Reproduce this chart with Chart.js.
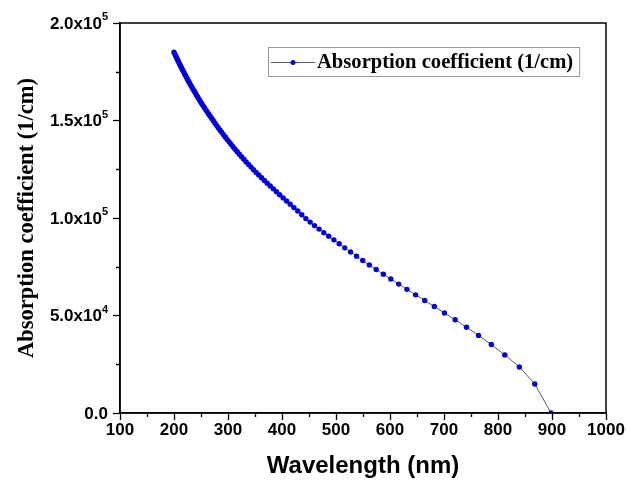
<!DOCTYPE html>
<html>
<head>
<meta charset="utf-8">
<style>
    html, body { margin: 0; padding: 0; background: #fff; }
</style>
</head>
<body>
<canvas id="myChart" width="626" height="483"></canvas>
<script src="https://cdn.jsdelivr.net/npm/chart.js@4.4.2/dist/chart.umd.min.js"></script>
<script>
// Wavelength (nm) of every measured point
const wavelengths = [
    200.0, 201.6, 203.2, 204.8, 206.5, 208.2, 209.9, 211.6, 213.4, 215.2,
    217.0, 218.9, 220.8, 222.7, 224.7, 226.7, 228.7, 230.8, 232.9, 235.1,
    237.3, 239.5, 241.8, 244.1, 246.4, 248.9, 251.3, 253.8, 256.4, 259.0,
    261.6, 264.4, 267.1, 270.0, 272.9, 275.8, 278.8, 281.9, 285.1, 288.3,
    291.6, 295.0, 298.4, 302.0, 305.6, 309.3, 313.1, 317.0, 321.0, 325.1,
    329.3, 333.6, 338.1, 342.6, 347.3, 352.1, 357.0, 362.1, 367.3, 372.7,
    378.2, 383.9, 389.8, 395.8, 402.1, 408.5, 415.2, 422.1, 429.2, 436.6,
    444.2, 452.1, 460.2, 468.7, 477.5, 486.6, 496.1, 505.9, 516.2, 526.9,
    538.0, 549.6, 561.7, 574.4, 587.7, 601.5, 616.1, 631.4, 647.4, 664.3,
    682.1, 700.9, 720.7, 741.7, 764.0, 787.6, 812.7, 839.5, 868.1, 898.2
];

// Absorption coefficient (1/cm)
const absorption = [
    185000, 184050, 183100, 182150, 181200, 180240, 179270, 178300, 177320, 176340,
    175350, 174350, 173350, 172340, 171330, 170310, 169280, 168250, 167210, 166170,
    165120, 164070, 163010, 161950, 160880, 159800, 158720, 157640, 156550, 155460,
    154360, 153260, 152150, 151000, 149850, 148690, 147520, 146340, 145150, 143950,
    142740, 141520, 140290, 139050, 137800, 136540, 135270, 133990, 132700, 131400,
    130090, 128770, 127440, 126100, 124750, 123390, 122020, 120640, 119250, 117850,
    116410, 114940, 113440, 111900, 110320, 108700, 107040, 105340, 103600, 101700,
    99700, 97900, 96100, 94300, 92500, 90700, 88800, 86800, 84700, 82600,
    80400, 78200, 75900, 73600, 71200, 68700, 66100, 63400, 60600, 57700,
    54600, 51300, 47800, 44000, 39800, 35100, 29800, 23600, 14900, 0
];

// Tick labels
const yTickValues = [0, 50000, 100000, 150000, 200000];
const yTickText = ['0.0', '5.0x10', '1.0x10', '1.5x10', '2.0x10'];
const yTickExp = ['', '4', '5', '5', '5'];
const xMinorTicks = [150, 250, 350, 450, 550, 650, 750, 850, 950];
const yMinorTicks = [25000, 75000, 125000, 175000];

const seriesLabel = 'Absorption coefficient (1/cm)';
const pointColor = '#0000d8';
const lineColor = '#5a5a5a';

// Frame, minor ticks, y labels with superscript and the legend box
const framePlugin = {
    id: 'framePlugin',
    afterDraw(chart) {
        const ctx = chart.ctx;
        const a = chart.chartArea;
        const xs = chart.scales.x;
        const ys = chart.scales.y;
        ctx.save();

        // box around plot
        ctx.strokeStyle = '#000';
        ctx.lineWidth = 1.5;
        ctx.strokeRect(a.left, a.top, a.right - a.left, a.bottom - a.top);

        // minor ticks
        ctx.lineWidth = 1.3;
        ctx.beginPath();
        xMinorTicks.forEach(v => {
            const px = Math.round(xs.getPixelForValue(v)) + 0.5;
            ctx.moveTo(px, a.bottom);
            ctx.lineTo(px, a.bottom + 4);
        });
        yMinorTicks.forEach(v => {
            const py = Math.round(ys.getPixelForValue(v)) + 0.5;
            ctx.moveTo(a.left, py);
            ctx.lineTo(a.left - 4, py);
        });
        ctx.stroke();

        // y tick labels like 1.5x10^5
        ctx.fillStyle = '#000';
        ctx.textBaseline = 'middle';
        const rightEdge = a.left - 12;
        yTickValues.forEach((v, i) => {
            const py = ys.getPixelForValue(v);
            ctx.font = 'bold 11px "Liberation Sans", Arial, sans-serif';
            const expW = yTickExp[i] ? ctx.measureText(yTickExp[i]).width : 0;
            ctx.textAlign = 'left';
            if (yTickExp[i]) ctx.fillText(yTickExp[i], rightEdge - expW, py - 6);
            ctx.font = 'bold 17px "Liberation Sans", Arial, sans-serif';
            ctx.textAlign = 'right';
            ctx.fillText(yTickText[i], rightEdge - expW, py + 1);
        });

        // legend
        const lx = a.left + 148;
        const ly = a.top + 24;
        ctx.font = 'bold 20.6px "Liberation Serif", "Times New Roman", serif';
        const tw = ctx.measureText(seriesLabel).width;
        const bw = 49 + tw + 6;
        ctx.strokeStyle = '#999';
        ctx.lineWidth = 1;
        ctx.strokeRect(lx + 0.5, ly + 0.5, bw, 29);
        ctx.strokeStyle = lineColor;
        ctx.beginPath();
        ctx.moveTo(lx + 3, ly + 15.5);
        ctx.lineTo(lx + 47, ly + 15.5);
        ctx.stroke();
        ctx.fillStyle = pointColor;
        ctx.beginPath();
        ctx.arc(lx + 25, ly + 15.5, 2.5, 0, Math.PI * 2);
        ctx.fill();
        ctx.fillStyle = '#000';
        ctx.textAlign = 'left';
        ctx.textBaseline = 'middle';
        ctx.fillText(seriesLabel, lx + 49, ly + 16);

        ctx.restore();
    }
};

const data = {
    datasets: [{
        label: seriesLabel,
        data: wavelengths.map((w, i) => ({ x: w, y: absorption[i] })),
        borderColor: lineColor,
        borderWidth: 1,
        pointRadius: 2.7,
        pointBackgroundColor: pointColor,
        pointBorderWidth: 0,
        tension: 0
    }]
};

const config = {
    type: 'line',
    data,
    options: {
        responsive: false,
        animation: false,
        layout: {
            padding: { top: 23, right: 20, left: 0, bottom: 0 }
        },
        plugins: {
            legend: { display: false },
            tooltip: { enabled: false }
        },
        scales: {
            x: {
                type: 'linear',
                min: 100,
                max: 1000,
                afterFit: (scale) => { scale.height = 70; },
                ticks: {
                    stepSize: 100,
                    color: '#000',
                    padding: 0,
                    callback: (value) => String(value),
                    font: { family: '"Liberation Sans", Arial, sans-serif', size: 17, weight: 'bold' }
                },
                grid: {
                    drawOnChartArea: false,
                    tickLength: 7,
                    tickColor: '#000',
                    tickWidth: 1.3
                },
                border: { color: '#000', width: 1.5 },
                title: {
                    display: true,
                    text: 'Wavelength (nm)',
                    color: '#000',
                    padding: { top: 0, bottom: 2 },
                    font: { family: '"Liberation Sans", Arial, sans-serif', size: 24, weight: 'bold' }
                }
            },
            y: {
                min: 0,
                max: 200000,
                afterFit: (scale) => { scale.width = 120; },
                ticks: {
                    stepSize: 50000,
                    display: false
                },
                grid: {
                    drawOnChartArea: false,
                    tickLength: 7,
                    tickColor: '#000',
                    tickWidth: 1.3
                },
                border: { color: '#000', width: 1.5 },
                title: {
                    display: true,
                    text: 'Absorption coefficient (1/cm)',
                    color: '#000',
                    padding: { top: 14, bottom: 0 },
                    font: { family: '"Liberation Serif", "Times New Roman", serif', size: 22.5, weight: 'bold' }
                }
            }
        }
    },
    plugins: [framePlugin]
};

const myChart = new Chart(document.getElementById('myChart'), config);
</script>
</body>
</html>
